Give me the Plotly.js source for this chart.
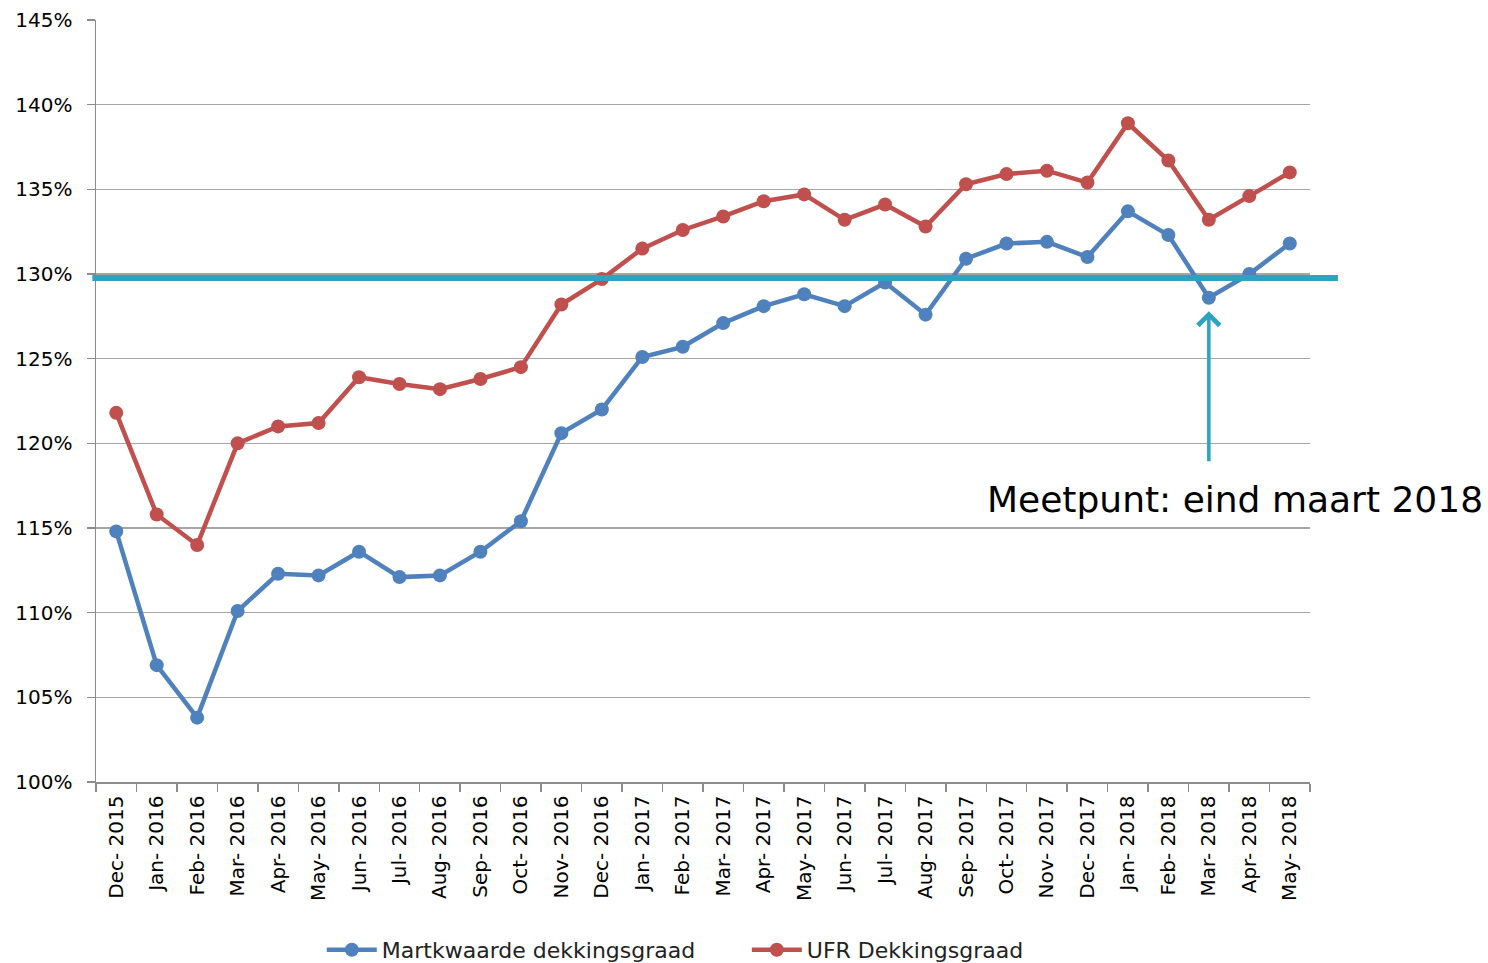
<!DOCTYPE html>
<html>
<head>
<meta charset="utf-8">
<script src="https://cdn.plot.ly/plotly-3.0.1.min.js"></script>
<style>html,body{margin:0;padding:0;background:#fff;}#chart{width:1488px;height:963px;}</style>
</head>
<body>
<div id="chart"></div>
<script>
var months = ["Dec-2015","Jan-2016","Feb-2016","Mar-2016","Apr-2016","May-2016","Jun-2016","Jul-2016","Aug-2016","Sep-2016","Oct-2016","Nov-2016","Dec-2016","Jan-2017","Feb-2017","Mar-2017","Apr-2017","May-2017","Jun-2017","Jul-2017","Aug-2017","Sep-2017","Oct-2017","Nov-2017","Dec-2017","Jan-2018","Feb-2018","Mar-2018","Apr-2018","May-2018"];
var marktwaarde = [114.8,106.9,103.8,110.1,112.3,112.2,113.6,112.1,112.2,113.6,115.4,120.6,122.0,125.1,125.7,127.1,128.1,128.8,128.1,129.5,127.6,130.9,131.8,131.9,131.0,133.7,132.3,128.6,130.0,131.8];
var ufr = [121.8,115.8,114.0,120.0,121.0,121.2,123.9,123.5,123.2,123.8,124.5,128.2,129.7,131.5,132.6,133.4,134.3,134.7,133.2,134.1,132.8,135.3,135.9,136.1,135.4,138.9,136.7,133.2,134.6,136.0];
var threshold = 129.77;
var yTicks = [100,105,110,115,120,125,130,135,140,145];
var yTickLabels = yTicks.map(function(v){return v + "%";});
var xTickLabels = months.map(function(m){return m.replace("-", "- ");});
var measureMonth = "Mar-2018";
var noteText = "Meetpunt: eind maart 2018";

var blue = "#4f81bd", red = "#c0504d", teal = "#2ca3c1";

var traces = [
  {x: months, y: marktwaarde, name: "Martkwaarde dekkingsgraad", type: "scatter", mode: "lines+markers",
   line: {color: blue, width: 4.5}, marker: {color: blue, size: 14}},
  {x: months, y: ufr, name: "UFR Dekkingsgraad", type: "scatter", mode: "lines+markers",
   line: {color: red, width: 4.5}, marker: {color: red, size: 14}}
];

var layout = {
  width: 1488, height: 963,
  margin: {l: 96, r: 178, t: 20, b: 181, autoexpand: false},
  paper_bgcolor: "#fff", plot_bgcolor: "#fff",
  font: {family: "DejaVu Sans, Verdana, sans-serif", color: "#222", size: 20},
  showlegend: true,
  legend: {orientation: "h", x: 0.186, xanchor: "left", yref: "container", y: 0.0135, yanchor: "middle",
           font: {size: 22, color: "#222"}, itemwidth: 50, tracegroupgap: 0,
           entrywidth: 360, entrywidthmode: "pixels"},
  xaxis: {type: "category", categoryorder: "array", categoryarray: months, range: [-0.5, 29.5],
          tickvals: months, ticktext: xTickLabels, tickangle: -90, automargin: false,
          showline: true, linecolor: "#8c8c8c", linewidth: 1.5,
          ticks: "outside", ticklen: 8, tickcolor: "#8c8c8c", tickwidth: 1.5, tickson: "boundaries",
          ticklabelstandoff: 4,
          showgrid: false, zeroline: false, tickfont: {size: 20, color: "#000"}, fixedrange: true},
  yaxis: {range: [100, 145], tickvals: yTicks, ticktext: yTickLabels, automargin: false,
          showline: true, linecolor: "#8c8c8c", linewidth: 1.5,
          ticks: "outside", ticklen: 8, tickcolor: "#8c8c8c", tickwidth: 1.5,
          ticklabelstandoff: 10,
          showgrid: true, gridcolor: "#a6a6a6", gridwidth: 1.5, zeroline: false,
          tickfont: {size: 20, color: "#000"}, fixedrange: true},
  shapes: [
    {type: "line", xref: "paper", yref: "y", x0: -0.003, x1: 1.023, y0: threshold, y1: threshold,
     line: {color: teal, width: 6}, layer: "above"}
  ],
  annotations: [
    {x: measureMonth, y: 127.8, xref: "x", yref: "y", axref: "x", ayref: "y",
     ax: measureMonth, ay: 118.85, showarrow: true, arrowhead: 4, arrowsize: 1.2,
     arrowwidth: 3.5, arrowcolor: teal, text: ""},
    {x: 0.9386, y: 0.371, xref: "paper", yref: "paper", xanchor: "center", yanchor: "middle",
     showarrow: false, text: noteText, font: {size: 36, color: "#000", family: "DejaVu Sans, Verdana, sans-serif"}}
  ]
};

Plotly.newPlot("chart", traces, layout, {displayModeBar: false, staticPlot: true});
</script>
</body>
</html>
